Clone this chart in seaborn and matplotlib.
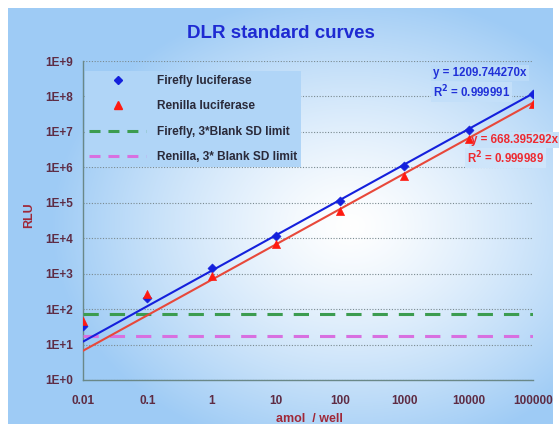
import numpy as np
import pandas as pd
import matplotlib
matplotlib.use("Agg")
import matplotlib.pyplot as plt
from matplotlib.lines import Line2D
from matplotlib.ticker import FixedLocator, FixedFormatter, LogLocator, NullFormatter
import seaborn as sns

# data
conc = [0.01, 0.1, 1, 10, 100, 1000, 10000, 100000]
firefly_rlu = [34, 210, 1450, 11800, 1.12e5, 1.1e6, 1.12e7, 1.15e8]
renilla_rlu = [47, 270, 870, 7000, 6.0e4, 5.7e5, 6.3e6, 6.0e7]
firefly_slope = 1209.744270
renilla_slope = 668.395292
firefly_r2 = "0.999991"
renilla_r2 = "0.999989"
firefly_limit = 73
renilla_limit = 17.5
x_tick_labels = ["0.01", "0.1", "1", "10", "100", "1000", "10000", "100000"]
y_ticks = [1e0, 1e1, 1e2, 1e3, 1e4, 1e5, 1e6, 1e7, 1e8, 1e9]
y_tick_labels = ["1E+0", "1E+1", "1E+2", "1E+3", "1E+4", "1E+5", "1E+6", "1E+7", "1E+8", "1E+9"]

df = pd.DataFrame({"conc": conc, "Firefly": firefly_rlu, "Renilla": renilla_rlu})
df["Firefly fit"] = firefly_slope * df["conc"]
df["Renilla fit"] = renilla_slope * df["conc"]

sns.set_style("white")
plt.rcParams["font.family"] = ["Liberation Sans", "DejaVu Sans"]
plt.rcParams["font.weight"] = "bold"

W, H = 559, 432
fig = plt.figure(figsize=(W / 100, H / 100), dpi=100, facecolor="white")

# radial background gradient (pixel coords, origin top-left)
edge = np.array([158, 203, 245]) / 255.0
white = np.array([1.0, 1.0, 1.0])
cx, cy, rx, ry = 350, 225, 300, 235


def grad_array(px, py):
    r = np.sqrt(((px - cx) / rx) ** 2 + ((py - cy) / ry) ** 2)
    t = (np.clip(r, 0, 1) ** 1.3)[..., None]
    return white * (1 - t) + edge * t


def grad_color(px, py):
    return tuple(grad_array(np.array(float(px)), np.array(float(py))).ravel())


gx, gy = np.meshgrid(np.arange(8, 553), np.arange(8, 424))
img = grad_array(gx, gy)
bg = fig.add_axes([8 / W, 8 / H, 545 / W, 416 / H], zorder=0)
bg.imshow(img, aspect="auto", interpolation="bilinear")
bg.axis("off")

ax = fig.add_axes([83 / W, 1 - 380 / H, 450 / W, 319 / H], zorder=1)
ax.set_facecolor("none")

blue = "#1420dc"
red = "#ff1a10"

sns.lineplot(data=df, x="conc", y="Firefly fit", color=blue, lw=1.5, ax=ax, zorder=4)
sns.lineplot(data=df, x="conc", y="Renilla fit", color="#e8483a", lw=1.5, ax=ax, zorder=4)
ax.axhline(firefly_limit, color="#3c9c50", lw=2.2, dashes=(5, 3.6), zorder=3)
ax.axhline(renilla_limit, color="#d870e0", lw=2.2, dashes=(5, 3.6), zorder=3)
sns.scatterplot(data=df, x="conc", y="Firefly", marker="D", s=22, color=blue,
                edgecolor=blue, ax=ax, zorder=5)
sns.scatterplot(data=df, x="conc", y="Renilla", marker="^", s=34, color=red,
                edgecolor=red, ax=ax, zorder=5)

ax.set_xscale("log")
ax.set_yscale("log")
ax.set_xlim(0.01, 100000)
ax.set_ylim(1, 1e9)

tick_col = "#5e2c44"
ax.xaxis.set_major_locator(FixedLocator(conc))
ax.xaxis.set_major_formatter(FixedFormatter(x_tick_labels))
ax.yaxis.set_major_locator(FixedLocator(y_ticks))
ax.yaxis.set_major_formatter(FixedFormatter(y_tick_labels))
ax.xaxis.set_minor_locator(LogLocator(base=10, subs=np.arange(2, 10), numticks=20))
ax.yaxis.set_minor_locator(LogLocator(base=10, subs=np.arange(2, 10), numticks=20))
ax.xaxis.set_minor_formatter(NullFormatter())
ax.yaxis.set_minor_formatter(NullFormatter())
ax.tick_params(axis="x", which="major", direction="in", length=4, pad=11,
               labelsize=8.5, labelcolor=tick_col, color="#708888")
ax.tick_params(axis="x", which="minor", direction="in", length=2.5, color="#708888")
ax.tick_params(axis="y", which="major", direction="out", length=4, pad=3,
               labelsize=8.5, labelcolor=tick_col, color="#708888")
ax.tick_params(axis="y", which="minor", direction="out", length=2, color="#708888")
for lab in ax.get_xticklabels() + ax.get_yticklabels():
    lab.set_fontweight("bold")

ax.grid(axis="y", which="major", ls=(0, (1, 1.5)), lw=0.8, color="#7a8a90", zorder=1)
ax.set_axisbelow(True)
for s in ["top", "right"]:
    ax.spines[s].set_visible(False)
for s in ["left", "bottom"]:
    ax.spines[s].set_color("#6a8888")
    ax.spines[s].set_linewidth(1.0)

label_col = "#a02838"
ax.set_xlabel("amol  / well", fontsize=9, fontweight="bold", color=label_col)
ax.set_ylabel("RLU", fontsize=9, fontweight="bold", color=label_col)
ax.xaxis.set_label_coords(0.504, -0.104)
ax.yaxis.set_label_coords(-0.106, 0.517)

fig.text(281 / W, 1 - 33 / H, "DLR standard curves", ha="center", va="center",
         fontsize=13.5, fontweight="bold", color="#1e2ad2")

# legend with a box the colour of the background so gridlines stay hidden
handles = [
    Line2D([], [], ls="none", marker="D", ms=4.5, color=blue),
    Line2D([], [], ls="none", marker="^", ms=6, color=red),
    Line2D([], [], color="#3c9c50", lw=2.2, dashes=(3.6, 2.6)),
    Line2D([], [], color="#d870e0", lw=2.2, dashes=(3.6, 2.6)),
]
labels = ["Firefly luciferase", "Renilla luciferase",
          "Firefly, 3*Blank SD limit", "Renilla, 3* Blank SD limit"]
leg = ax.legend(handles, labels, loc="upper left", bbox_to_anchor=(0.0, 0.975),
                frameon=True, fancybox=False, framealpha=1,
                facecolor=grad_color(150, 100), edgecolor="none",
                prop={"size": 8.6, "weight": "bold"}, handlelength=4.8, handletextpad=0.9,
                labelspacing=1.12, borderpad=0.3, borderaxespad=0.2)
for t in leg.get_texts():
    t.set_color("#2a2a3a")
leg.set_zorder(6)

ann = dict(fontsize=8.3, fontweight="bold", transform=ax.transAxes, va="center",
           ha="left", zorder=3.5)
ax.text(0.778, 0.962, "y = %.6fx" % firefly_slope, color="#2030d8",
        bbox=dict(facecolor=grad_color(475, 73), edgecolor="none", pad=1.5), **ann)
ax.text(0.778, 0.903, "R$^2$ = " + firefly_r2, color="#2030d8",
        bbox=dict(facecolor=grad_color(470, 92), edgecolor="none", pad=1.5), **ann)
ax.text(0.862, 0.752, "y = %.6fx" % renilla_slope, color="#ee2a30", clip_on=False,
        bbox=dict(facecolor=grad_color(515, 140), edgecolor="none", pad=1.5), **ann)
ax.text(0.853, 0.696, "R$^2$ = " + renilla_r2, color="#ee2a30",
        bbox=dict(facecolor=grad_color(505, 158), edgecolor="none", pad=1.5), **ann)

fig.savefig("out.png", dpi=100, facecolor="white")
